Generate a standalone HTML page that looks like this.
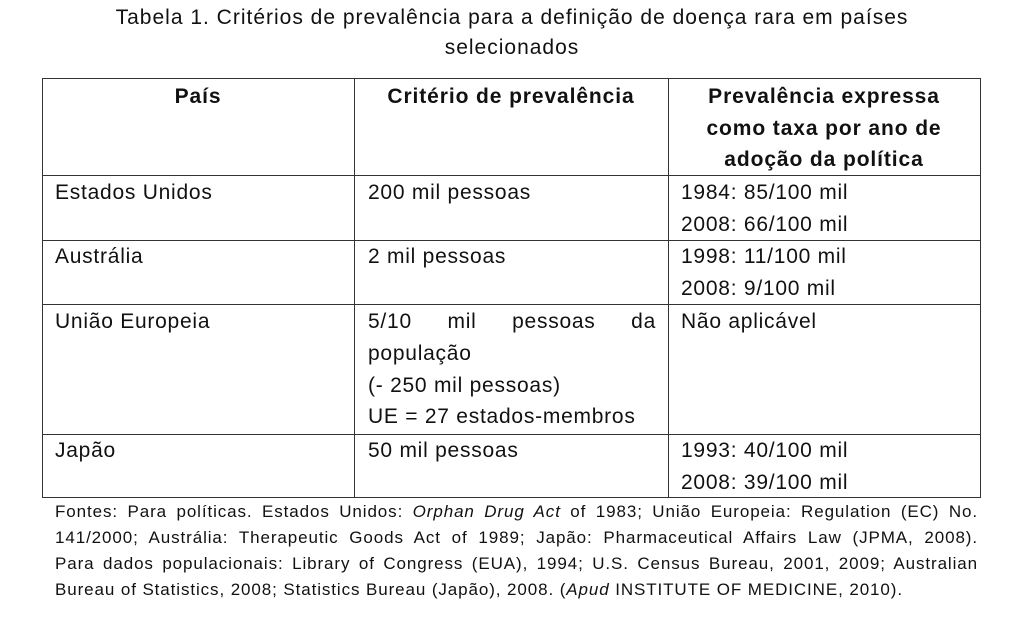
<!DOCTYPE html>
<html><head><meta charset="utf-8"><style>
body{margin:0;width:1024px;height:627px;background:#fff;position:relative;overflow:hidden;font-family:"Liberation Sans",sans-serif;color:#111}
.t{position:absolute;white-space:nowrap;font-size:21px;line-height:30px;letter-spacing:0.75px}
.b{font-weight:bold;letter-spacing:0.9px}
.c{text-align:center}
.h{position:absolute;height:1px;background:#333}
.v{position:absolute;width:1px;background:#333}
.f{position:absolute;left:55px;width:923px;font-size:17px;line-height:24px;letter-spacing:0.9px;text-align:justify;text-align-last:justify;white-space:nowrap}
</style></head><body>
<div class="t c" style="left:0;width:1024px;top:3px;letter-spacing:1px">Tabela 1. Critérios de prevalência para a definição de doença rara em países</div>
<div class="t c" style="left:0;width:1024px;top:33px;letter-spacing:1px">selecionados</div>

<div class="h" style="left:42px;width:939px;top:78px"></div>
<div class="h" style="left:42px;width:939px;top:175px"></div>
<div class="h" style="left:42px;width:939px;top:240px"></div>
<div class="h" style="left:42px;width:939px;top:304px"></div>
<div class="h" style="left:42px;width:939px;top:434px"></div>
<div class="h" style="left:42px;width:939px;top:497px"></div>
<div class="v" style="left:42px;top:78px;height:420px"></div>
<div class="v" style="left:354px;top:78px;height:420px"></div>
<div class="v" style="left:668px;top:78px;height:420px"></div>
<div class="v" style="left:980px;top:78px;height:420px"></div>

<div class="t b c" style="left:42px;width:312px;top:82px">País</div>
<div class="t b c" style="left:354px;width:314px;top:82px">Critério de prevalência</div>
<div class="t b c" style="left:668px;width:312px;top:82px">Prevalência expressa</div>
<div class="t b c" style="left:668px;width:312px;top:114px">como taxa por ano de</div>
<div class="t b c" style="left:668px;width:312px;top:145px">adoção da política</div>

<div class="t" style="left:55px;top:178px">Estados Unidos</div>
<div class="t" style="left:368px;top:178px">200 mil pessoas</div>
<div class="t" style="left:681px;top:178px">1984: 85/100 mil</div>
<div class="t" style="left:681px;top:210px">2008: 66/100 mil</div>

<div class="t" style="left:55px;top:242px">Austrália</div>
<div class="t" style="left:368px;top:242px">2 mil pessoas</div>
<div class="t" style="left:681px;top:242px">1998: 11/100 mil</div>
<div class="t" style="left:681px;top:274px">2008: 9/100 mil</div>

<div class="t" style="left:55px;top:307px">União Europeia</div>
<div class="t" style="left:368px;top:307px;width:288px;text-align:justify;text-align-last:justify">5/10 mil pessoas da</div>
<div class="t" style="left:368px;top:339px">população</div>
<div class="t" style="left:368px;top:371px">(- 250 mil pessoas)</div>
<div class="t" style="left:368px;top:402px">UE = 27 estados-membros</div>
<div class="t" style="left:681px;top:307px">Não aplicável</div>

<div class="t" style="left:55px;top:436px">Japão</div>
<div class="t" style="left:368px;top:436px">50 mil pessoas</div>
<div class="t" style="left:681px;top:436px">1993: 40/100 mil</div>
<div class="t" style="left:681px;top:468px">2008: 39/100 mil</div>

<div class="f" style="top:500px">Fontes: Para políticas. Estados Unidos: <i>Orphan Drug Act</i> of 1983; União Europeia: Regulation (EC) No.</div>
<div class="f" style="top:526px">141/2000; Austrália: Therapeutic Goods Act of 1989; Japão: Pharmaceutical Affairs Law (JPMA, 2008).</div>
<div class="f" style="top:552px">Para dados populacionais: Library of Congress (EUA), 1994; U.S. Census Bureau, 2001, 2009; Australian</div>
<div class="f" style="top:578px;text-align-last:left">Bureau of Statistics, 2008; Statistics Bureau (Japão), 2008. (<i>Apud</i> INSTITUTE OF MEDICINE, 2010).</div>
</body></html>
